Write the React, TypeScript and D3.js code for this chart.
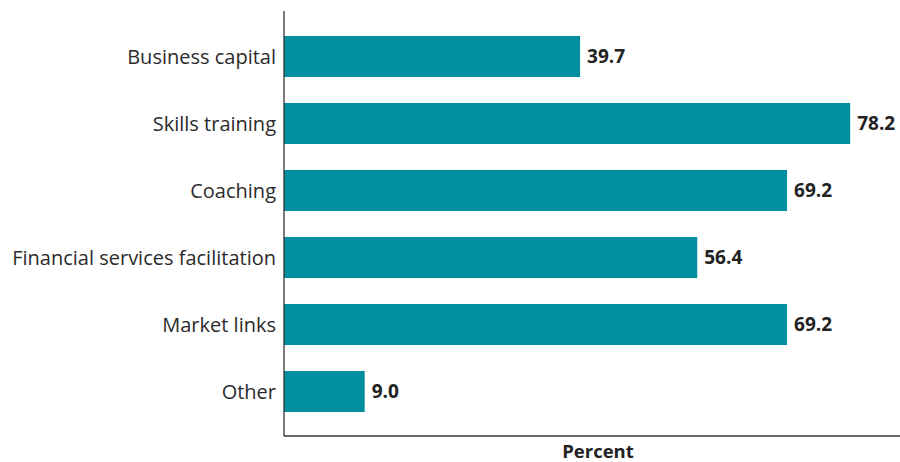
import React from "react";
import * as d3 from "d3";

const categories = [
  "Business capital",
  "Skills training",
  "Coaching",
  "Financial services facilitation",
  "Market links",
  "Other",
];
const values = [39.7, 78.2, 69.2, 56.4, 69.2, 9.0];
const axisTitle = "Percent";

const W = 900;
const H = 462;
const left = 284;
const right = 900;
const top = 11;
const bottom = 436;

export default function App() {
  const x = d3.scaleLinear().domain([-2.5, 85.3]).range([left, right]);
  const y = d3
    .scaleBand<string>()
    .domain(categories)
    .range([23, 425])
    .paddingInner(0.388)
    .paddingOuter(0.194);
  const font = "'Open Sans', 'Liberation Sans', sans-serif";
  return (
    <svg
      width={W}
      height={H}
      style={{ position: "absolute", left: 0, top: 0, background: "#fff" }}
      fontFamily={font}
    >
      {categories.map((c, i) => (
        <g key={c}>
          <rect
            x={left}
            y={y(c)}
            width={x(values[i]) - left}
            height={y.bandwidth()}
            fill="#008F9F"
          />
          <text
            x={left - 8}
            y={(y(c) as number) + y.bandwidth() / 2}
            dy="0.35em"
            textAnchor="end"
            fontSize={20}
            fill="#2b2b2b"
            textLength={undefined}
          >
            {c}
          </text>
          <text
            x={x(values[i]) + 7}
            y={(y(c) as number) + y.bandwidth() / 2}
            dy="0.35em"
            fontSize={19}
            fontWeight="bold"
            fill="#222"
          >
            {values[i].toFixed(1)}
          </text>
        </g>
      ))}
      <line x1={left} x2={left} y1={top} y2={bottom} stroke="#333" strokeWidth={1.3} />
      <line x1={left} x2={right} y1={bottom} y2={bottom} stroke="#333" strokeWidth={1.3} />
      <text
        x={598}
        y={458}
        textAnchor="middle"
        fontSize={18.5}
        fontWeight="bold"
        fill="#222"
      >
        {axisTitle}
      </text>
    </svg>
  );
}
